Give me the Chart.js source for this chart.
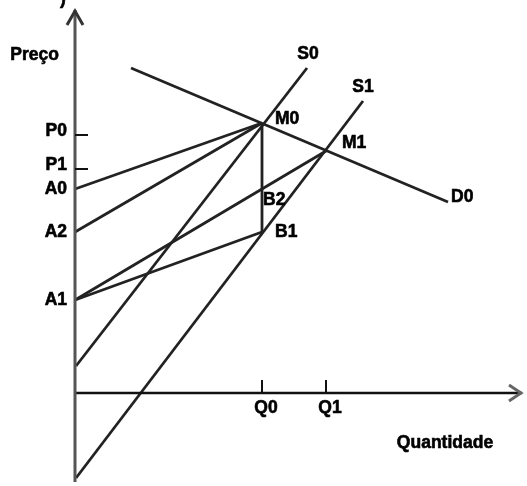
<!DOCTYPE html>
<html>
<head>
<meta charset="utf-8">
<script src="https://cdn.jsdelivr.net/npm/chart.js@4"></script>
<style>
  html, body { margin: 0; padding: 0; background: #fff; }
</style>
</head>
<body>
<canvas id="chart" width="527" height="486"></canvas>
<script>
// marks on the price axis
const priceTickLabels = ['P0', 'P1'];
const priceTickValues = [258, 224];
// marks on the quantity axis
const quantityTickLabels = ['Q0', 'Q1'];
const quantityTickValues = [187, 251];
// intercepts on the price axis
const interceptLabels = ['A0', 'A2', 'A1'];
const interceptValues = [204, 161, 93];
// named points
const pointLabels = ['M0', 'M1', 'B2', 'B1'];
const pointX = [187, 251, 187, 187];
const pointY = [270, 242, 205, 161];
// demand and supply curves (start, end)
const curveLabels = ['D0', 'S0', 'S1'];
const curveX = [[56, 373], [1, 232], [1, 288]];
const curveY = [[325, 191], [27, 325], [-85, 292]];
// segments between named points
const segments = [['A0', 'M0'], ['A2', 'M0'], ['A1', 'M1'], ['A1', 'B1'], ['M0', 'B1']];
// axes extents
const axisX = [0, 447];
const axisY = [-89, 383];
const axisTitles = ['Preço', 'Quantidade'];

const findPoint = name => {
    let i = interceptLabels.indexOf(name);
    if (i >= 0) return { x: 0, y: interceptValues[i] };
    i = pointLabels.indexOf(name);
    return { x: pointX[i], y: pointY[i] };
};

const lineStyle = { showLine: true, borderColor: '#222', borderWidth: 2.8, pointRadius: 0, clip: false };

const datasets = [
    { ...lineStyle, borderColor: '#555', borderWidth: 3, data: [{ x: 0, y: axisY[0] }, { x: 0, y: axisY[1] }] },
    { ...lineStyle, borderColor: '#111', borderWidth: 2.5, data: [{ x: axisX[0], y: 0 }, { x: axisX[1], y: 0 }] }
];
curveLabels.forEach((name, i) => {
    datasets.push({ ...lineStyle, label: name, data: curveX[i].map((x, j) => ({ x, y: curveY[i][j] })) });
});
segments.forEach(([a, b]) => {
    datasets.push({ ...lineStyle, label: a + '-' + b, data: [findPoint(a), findPoint(b)] });
});

// label offsets in pixels
const pointLabelOffset = { M0: [13, -4], M1: [16, -8], B2: [1, 12], B1: [13, 0] };
const curveLabelOffset = { D0: [3, -5, 'left'], S0: [1, -14, 'center'], S1: [0, -14, 'center'] };

const diagramMarks = {
    id: 'diagramMarks',
    afterDatasetsDraw(chart) {
        const { ctx, scales: { x, y } } = chart;
        const px = v => x.getPixelForValue(v);
        const py = v => y.getPixelForValue(v);
        const x0 = px(0), y0 = py(0);

        ctx.save();
        ctx.strokeStyle = '#111';
        ctx.lineWidth = 2;
        ctx.beginPath();
        priceTickValues.forEach(v => { ctx.moveTo(x0, py(v)); ctx.lineTo(x0 + 13, py(v)); });
        quantityTickValues.forEach(v => { ctx.moveTo(px(v), y0); ctx.lineTo(px(v), y0 - 13); });
        ctx.stroke();

        // arrow heads
        ctx.lineWidth = 3;
        const ty = py(axisY[1]);
        ctx.strokeStyle = '#333';
        ctx.beginPath();
        ctx.moveTo(x0 - 8, ty + 15); ctx.lineTo(x0, ty + 1); ctx.lineTo(x0 + 8, ty + 15);
        ctx.stroke();
        const tx = px(axisX[1]);
        ctx.strokeStyle = '#666';
        ctx.beginPath();
        ctx.moveTo(tx - 13, y0 - 8); ctx.lineTo(tx - 1, y0); ctx.lineTo(tx - 13, y0 + 8);
        ctx.stroke();

        ctx.fillStyle = '#000';
        ctx.strokeStyle = '#000';
        ctx.lineWidth = 0.6;
        ctx.font = 'bold 17.5px "Liberation Sans", Arial, sans-serif';
        ctx.textBaseline = 'middle';
        const text = (t, tx, ty) => { ctx.fillText(t, tx, ty); ctx.strokeText(t, tx, ty); };

        ctx.textAlign = 'right';
        priceTickLabels.forEach((t, i) => text(t, x0 - 8, py(priceTickValues[i]) - 4));
        interceptLabels.forEach((t, i) => text(t, x0 - 8, py(interceptValues[i])));

        ctx.textAlign = 'center';
        quantityTickLabels.forEach((t, i) => text(t, px(quantityTickValues[i]) + 4, y0 + 15));

        ctx.textAlign = 'left';
        pointLabels.forEach((t, i) => {
            const [dx, dy] = pointLabelOffset[t];
            text(t, px(pointX[i]) + dx, py(pointY[i]) + dy);
        });
        curveLabels.forEach((t, i) => {
            const [dx, dy, align] = curveLabelOffset[t];
            ctx.textAlign = align;
            text(t, px(curveX[i][1]) + dx, py(curveY[i][1]) + dy);
        });

        ctx.textAlign = 'right';
        text(axisTitles[0], x0 - 16, 55);
        ctx.textAlign = 'center';
        text(axisTitles[1], 445, 443);

        // cropped caption remnant at the top
        ctx.textAlign = 'left';
        text(')', 60, -1);
        ctx.restore();
    }
};

new Chart(document.getElementById('chart'), {
    type: 'scatter',
    data: { datasets },
    options: {
        responsive: false,
        animation: false,
        layout: { padding: 0 },
        scales: {
            x: { type: 'linear', min: -75, max: 452, display: false },
            y: { type: 'linear', min: -93, max: 393, display: false }
        },
        plugins: { legend: { display: false }, tooltip: { enabled: false } },
        elements: { point: { radius: 0 } }
    },
    plugins: [diagramMarks]
});
</script>
</body>
</html>
